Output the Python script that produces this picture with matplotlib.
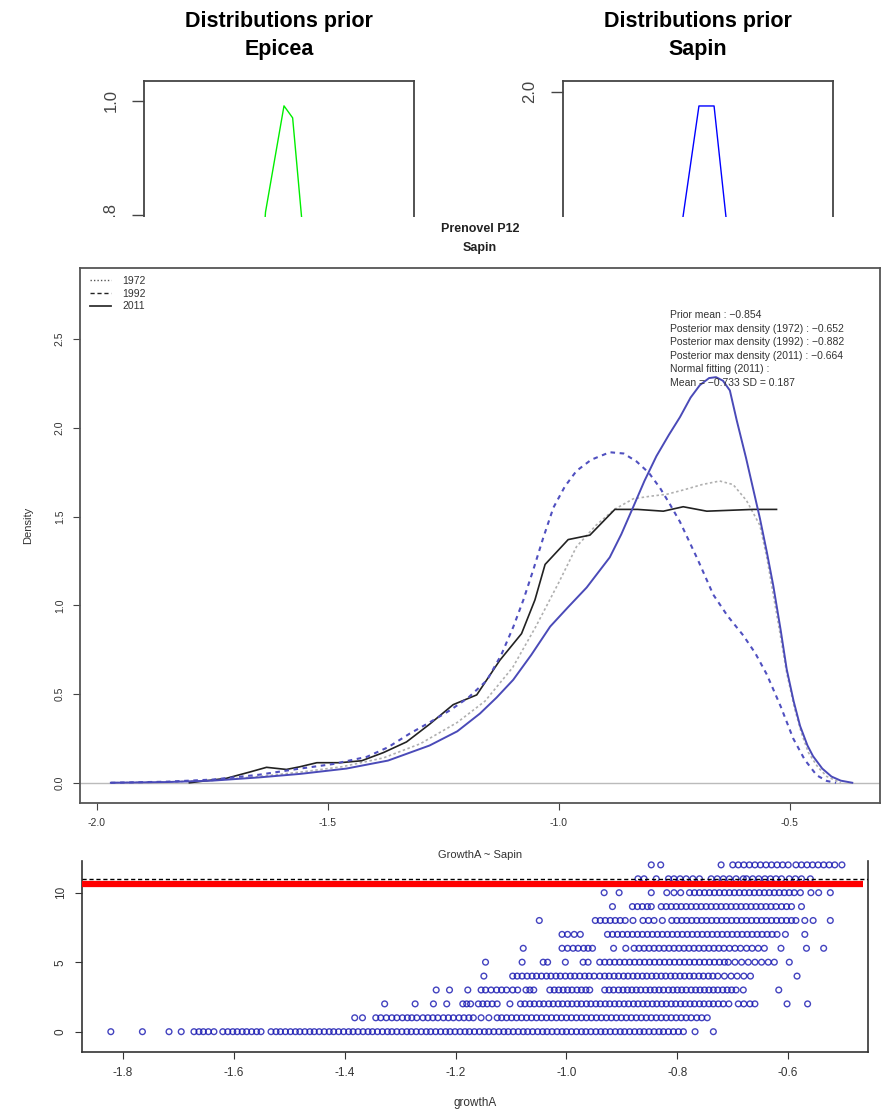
import matplotlib.pyplot as plt
from matplotlib.patches import Rectangle
from matplotlib.lines import Line2D

plt.rcParams['font.family'] = ['Liberation Sans', 'DejaVu Sans']

# ---- top panels: prior distributions (only the upper part is visible) ----
epicea_x = [-1.13, -1.10, -0.963, -0.899, -0.833, -0.82]
epicea_y = [0.70, 0.805, 0.991, 0.970, 0.797, 0.70]
sapin_prior_x = [-1.16, -1.111, -0.993, -0.881, -0.793, -0.75]
sapin_prior_y = [1.40, 1.54, 1.948, 1.948, 1.54, 1.40]

# ---- main panel: posterior densities ----
x1972 = [-1.97, -1.85, -1.75, -1.65, -1.56, -1.47, -1.38, -1.30, -1.22, -1.16, -1.10, -1.05, -1.00,
         -0.962, -0.92, -0.88, -0.839, -0.80, -0.767, -0.73, -0.69, -0.652, -0.623, -0.594, -0.565,
         -0.55, -0.536, -0.52, -0.507, -0.49, -0.475, -0.46, -0.44, -0.42, -0.39]
y1972 = [0.0, 0.004, 0.013, 0.035, 0.06, 0.09, 0.14, 0.22, 0.34, 0.46, 0.65, 0.88, 1.13,
         1.33, 1.45, 1.54, 1.60, 1.615, 1.625, 1.65, 1.68, 1.70, 1.68, 1.59, 1.45,
         1.27, 1.06, 0.82, 0.62, 0.42, 0.28, 0.17, 0.09, 0.035, 0.0]

x1992 = [-1.97, -1.85, -1.75, -1.65, -1.56, -1.49, -1.416, -1.37, -1.323, -1.28, -1.236, -1.196,
         -1.156, -1.125, -1.099, -1.077, -1.056, -1.034, -1.012, -0.987, -0.962, -0.93, -0.89,
         -0.86, -0.832, -0.805, -0.781, -0.76, -0.738, -0.70, -0.666, -0.635, -0.601, -0.575,
         -0.55, -0.52, -0.493, -0.468, -0.442, -0.42, -0.40]
y1992 = [0.0, 0.006, 0.018, 0.045, 0.08, 0.105, 0.146, 0.2, 0.277, 0.34, 0.408, 0.48,
         0.577, 0.72, 0.877, 1.03, 1.196, 1.38, 1.55, 1.67, 1.757, 1.82, 1.862,
         1.855, 1.81, 1.745, 1.66, 1.57, 1.47, 1.26, 1.06, 0.94, 0.83, 0.73,
         0.61, 0.43, 0.25, 0.13, 0.042, 0.01, 0.0]

x2011 = [-1.80, -1.72, -1.67, -1.633, -1.59, -1.561, -1.524, -1.474, -1.427, -1.38, -1.33, -1.28,
         -1.229, -1.178, -1.128, -1.081, -1.052, -1.030, -1.005, -0.980, -0.933, -0.879, -0.83,
         -0.774, -0.731, -0.68, -0.63, -0.58, -0.529]
y2011 = [0.0, 0.025, 0.06, 0.087, 0.075, 0.09, 0.113, 0.113, 0.124, 0.17, 0.23, 0.33,
         0.44, 0.495, 0.69, 0.84, 1.03, 1.23, 1.30, 1.37, 1.395, 1.54, 1.54,
         1.53, 1.555, 1.53, 1.535, 1.54, 1.54]

xpost = [-1.97, -1.85, -1.75, -1.65, -1.56, -1.46, -1.37, -1.28, -1.22, -1.171, -1.135, -1.099,
         -1.06, -1.019, -0.98, -0.94, -0.89, -0.865, -0.839, -0.815, -0.789, -0.762, -0.738,
         -0.715, -0.695, -0.675, -0.66, -0.645, -0.63, -0.615, -0.595, -0.58, -0.565, -0.55,
         -0.536, -0.52, -0.507, -0.492, -0.478, -0.462, -0.45, -0.43, -0.41, -0.39, -0.365]
ypost = [0.0, 0.004, 0.012, 0.03, 0.05, 0.08, 0.125, 0.21, 0.29, 0.39, 0.48, 0.58,
         0.72, 0.88, 0.99, 1.10, 1.27, 1.40, 1.555, 1.70, 1.84, 1.96, 2.06,
         2.17, 2.24, 2.28, 2.285, 2.265, 2.21, 2.04, 1.83, 1.66, 1.49, 1.30,
         1.11, 0.86, 0.64, 0.46, 0.32, 0.21, 0.15, 0.08, 0.035, 0.012, 0.0]

legend_labels = ['1972', '1992', '2011']
info_lines = ['Prior mean : \u22120.854',
              'Posterior max density (1972) : \u22120.652',
              'Posterior max density (1992) : \u22120.882',
              'Posterior max density (2011) : \u22120.664',
              'Normal fitting (2011) :',
              'Mean = \u22120.733 SD = 0.187']

# ---- bottom panel: growthA per row ----
g0 = [-1.822, -1.765, -1.717, -1.695, -1.672, -1.663, -1.655, -1.646, -1.636, -1.620, -1.611, -1.602,
      -1.594, -1.585, -1.577, -1.568, -1.559, -1.551, -1.533, -1.524, -1.516, -1.507, -1.498, -1.489,
      -1.481, -1.472, -1.463, -1.455, -1.446, -1.437, -1.428, -1.420, -1.411, -1.402, -1.393, -1.385,
      -1.376, -1.367, -1.358, -1.350, -1.341, -1.332, -1.323, -1.315, -1.306, -1.297, -1.288, -1.280,
      -1.271, -1.262, -1.253, -1.245, -1.236, -1.227, -1.218, -1.210, -1.201, -1.192, -1.183, -1.175,
      -1.166, -1.157, -1.148, -1.140, -1.131, -1.122, -1.113, -1.105, -1.096, -1.087, -1.078, -1.070,
      -1.061, -1.052, -1.043, -1.035, -1.026, -1.017, -1.008, -1.000, -0.991, -0.982, -0.973, -0.965,
      -0.956, -0.947, -0.938, -0.930, -0.921, -0.912, -0.903, -0.895, -0.886, -0.877, -0.868, -0.860,
      -0.851, -0.842, -0.833, -0.825, -0.816, -0.807, -0.798, -0.789, -0.768, -0.735]
g1 = [-1.382, -1.368, -1.344, -1.335, -1.325, -1.315, -1.306, -1.296, -1.287, -1.279, -1.270, -1.259,
      -1.250, -1.241, -1.232, -1.222, -1.213, -1.204, -1.194, -1.185, -1.176, -1.168, -1.154, -1.140,
      -1.125, -1.117, -1.108, -1.099, -1.090, -1.081, -1.072, -1.063, -1.054, -1.045, -1.036, -1.027,
      -1.018, -1.009, -1.000, -0.991, -0.982, -0.973, -0.964, -0.955, -0.946, -0.937, -0.928, -0.919,
      -0.910, -0.901, -0.892, -0.883, -0.874, -0.865, -0.856, -0.847, -0.838, -0.829, -0.820, -0.811,
      -0.802, -0.793, -0.784, -0.775, -0.765, -0.756, -0.746]
g2 = [-1.328, -1.273, -1.240, -1.216, -1.187, -1.180, -1.173, -1.159, -1.151, -1.143, -1.134, -1.125,
      -1.102, -1.083, -1.075, -1.066, -1.058, -1.049, -1.041, -1.032, -1.024, -1.015, -1.007, -0.998,
      -0.990, -0.981, -0.973, -0.964, -0.956, -0.947, -0.939, -0.930, -0.922, -0.913, -0.905, -0.896,
      -0.888, -0.879, -0.871, -0.862, -0.854, -0.845, -0.837, -0.828, -0.820, -0.811, -0.803, -0.794,
      -0.786, -0.777, -0.769, -0.760, -0.752, -0.743, -0.735, -0.726, -0.717, -0.707, -0.690, -0.680,
      -0.669, -0.660, -0.602, -0.565]
g3 = [-1.235, -1.211, -1.178, -1.154, -1.146, -1.136, -1.126, -1.117, -1.108, -1.097, -1.088, -1.073,
      -1.066, -1.059, -1.030, -1.022, -1.014, -1.006, -0.998, -0.990, -0.981, -0.973, -0.965, -0.958,
      -0.931, -0.923, -0.915, -0.906, -0.898, -0.890, -0.882, -0.874, -0.866, -0.857, -0.849, -0.841,
      -0.833, -0.825, -0.816, -0.808, -0.800, -0.792, -0.784, -0.775, -0.767, -0.759, -0.751, -0.743,
      -0.735, -0.727, -0.718, -0.710, -0.702, -0.694, -0.681, -0.617]
g4 = [-1.149, -1.097, -1.089, -1.080, -1.071, -1.062, -1.054, -1.045, -1.036, -1.028, -1.019, -1.011,
      -1.002, -0.993, -0.985, -0.976, -0.967, -0.959, -0.950, -0.940, -0.931, -0.923, -0.914, -0.906,
      -0.897, -0.889, -0.880, -0.872, -0.863, -0.855, -0.846, -0.838, -0.829, -0.821, -0.812, -0.804,
      -0.795, -0.787, -0.778, -0.770, -0.761, -0.753, -0.744, -0.736, -0.727, -0.715, -0.703, -0.692,
      -0.680, -0.668, -0.584]
g5 = [-1.146, -1.080, -1.042, -1.034, -1.002, -0.970, -0.961, -0.940, -0.931, -0.922, -0.913, -0.904,
      -0.895, -0.886, -0.877, -0.868, -0.859, -0.850, -0.841, -0.832, -0.823, -0.814, -0.805, -0.796,
      -0.787, -0.778, -0.769, -0.760, -0.751, -0.742, -0.733, -0.724, -0.715, -0.708, -0.696, -0.684,
      -0.672, -0.660, -0.648, -0.636, -0.625, -0.598]
g6 = [-1.078, -1.008, -0.998, -0.988, -0.979, -0.969, -0.961, -0.953, -0.915, -0.893, -0.878, -0.869,
      -0.860, -0.851, -0.842, -0.833, -0.824, -0.815, -0.806, -0.797, -0.788, -0.779, -0.770, -0.761,
      -0.752, -0.743, -0.734, -0.725, -0.716, -0.706, -0.696, -0.686, -0.675, -0.665, -0.654, -0.643,
      -0.613, -0.567, -0.536]
g7 = [-1.008, -0.998, -0.986, -0.975, -0.926, -0.917, -0.908, -0.899, -0.890, -0.881, -0.872, -0.863,
      -0.854, -0.845, -0.836, -0.827, -0.818, -0.809, -0.800, -0.791, -0.782, -0.773, -0.764, -0.755,
      -0.746, -0.737, -0.728, -0.719, -0.710, -0.701, -0.692, -0.683, -0.674, -0.665, -0.656, -0.647,
      -0.638, -0.629, -0.620, -0.605, -0.570]
g8 = [-1.049, -0.948, -0.939, -0.930, -0.921, -0.912, -0.903, -0.894, -0.880, -0.862, -0.852, -0.842,
      -0.827, -0.810, -0.801, -0.792, -0.783, -0.774, -0.765, -0.756, -0.747, -0.738, -0.729, -0.720,
      -0.711, -0.702, -0.693, -0.684, -0.675, -0.666, -0.657, -0.648, -0.639, -0.630, -0.621, -0.612,
      -0.603, -0.594, -0.586, -0.570, -0.555, -0.524]
g9 = [-0.917, -0.881, -0.872, -0.863, -0.854, -0.847, -0.829, -0.820, -0.811, -0.802, -0.793, -0.784,
      -0.775, -0.766, -0.757, -0.748, -0.739, -0.730, -0.721, -0.712, -0.703, -0.694, -0.685, -0.676,
      -0.667, -0.658, -0.649, -0.640, -0.631, -0.622, -0.612, -0.603, -0.594, -0.576]
g10 = [-0.932, -0.905, -0.847, -0.819, -0.806, -0.794, -0.778, -0.769, -0.760, -0.751, -0.742, -0.733,
       -0.724, -0.715, -0.706, -0.697, -0.688, -0.679, -0.670, -0.661, -0.652, -0.643, -0.634, -0.625,
       -0.616, -0.607, -0.598, -0.589, -0.578, -0.559, -0.545, -0.524]
g11 = [-0.871, -0.860, -0.838, -0.816, -0.806, -0.795, -0.784, -0.772, -0.760, -0.739, -0.728, -0.717,
       -0.706, -0.694, -0.681, -0.675, -0.664, -0.653, -0.642, -0.632, -0.622, -0.612, -0.598, -0.587,
       -0.576, -0.560]
g12 = [-0.847, -0.830, -0.721, -0.700, -0.690, -0.680, -0.670, -0.660, -0.650, -0.640, -0.630, -0.620,
       -0.610, -0.600, -0.586, -0.576, -0.566, -0.556, -0.546, -0.536, -0.526, -0.516, -0.503]
growth_rows = [g0, g1, g2, g3, g4, g5, g6, g7, g8, g9, g10, g11, g12]
dotted_level = 11.0
red_level = 10.62

W, H = 883, 1110
fig = plt.figure(figsize=(W / 100, H / 100), dpi=100)


def box(l, t, r, b):  # axes from pixel edges (top-left origin)
    return fig.add_axes([l / W, 1 - b / H, (r - l) / W, (b - t) / H])


def ftext(x, y, s, **kw):
    fig.text(x / W, 1 - y / H, s, ha='center', va='center', zorder=12, **kw)


def top_panel(ax, x, y, col, ylim, ticks):
    ax.plot(x, y, color=col, lw=1)
    ax.set_xlim(-2, 0)
    ax.set_ylim(*ylim)
    ax.set_xticks([])
    ax.set_yticks(ticks)
    ax.set_yticklabels(['%.1f' % t for t in ticks], rotation=90, va='center', fontsize=12, color='#444444')
    ax.tick_params(axis='y', length=8.5, width=1, pad=10, color='#444444')
    ax.spines['bottom'].set_visible(False)
    for s in ['top', 'left', 'right']:
        ax.spines[s].set_color('#444444')
        ax.spines[s].set_linewidth(1.3)


axL = box(144, 81, 414, 216.7)
top_panel(axL, epicea_x, epicea_y, '#00ee00', (0.797, 1.0345), [0.8, 1.0])
axR = box(563, 81, 833, 216.7)
top_panel(axR, sapin_prior_x, sapin_prior_y, '#0000ff', (1.54, 2.04), [2.0])

ftext(279, 22, 'Distributions prior', fontsize=15.5, fontweight='bold')
ftext(279, 49, 'Epicea', fontsize=15.5, fontweight='bold')
ftext(698, 22, 'Distributions prior', fontsize=15.5, fontweight='bold')
ftext(698, 49, 'Sapin', fontsize=15.5, fontweight='bold')

# white strip where the top panels are cut off
fig.add_artist(Rectangle((0, 1 - 264 / H), 1, (264 - 216.7) / H, transform=fig.transFigure,
                         facecolor='white', edgecolor='none', zorder=5))

# ---- main panel ----
axM = box(80, 268, 880, 803)
axM.set_zorder(10)
axM.axhline(0, color='#bbbbbb', lw=1)
axM.plot(x1972, y1972, color='#b0b0b0', lw=1.2, ls=(0, (1.5, 1.5)))
axM.plot(x2011, y2011, color='#222222', lw=1.2)
axM.plot(x1992, y1992, color='#5050c0', lw=1.5, ls=(0, (2.2, 2.2)))
axM.plot(xpost, ypost, color='#4a4ab8', lw=1.4)
axM.set_xlim(-2.0368, -0.305)
axM.set_ylim(-0.114, 2.90)
axM.set_xticks([-2.0, -1.5, -1.0, -0.5])
axM.set_xticklabels(['-2.0', '-1.5', '-1.0', '-0.5'], fontsize=7.5, color='#333333')
yt = [0.0, 0.5, 1.0, 1.5, 2.0, 2.5]
axM.set_yticks(yt)
axM.set_yticklabels(['%.1f' % t for t in yt], rotation=90, va='center', fontsize=7.5, color='#333333')
axM.tick_params(length=5, width=0.8, pad=6, color='#444444')
for s in axM.spines.values():
    s.set_color('#555555')
    s.set_linewidth(1.3)

handles = [Line2D([], [], color='#555555', lw=1, ls=(0, (1, 1.5))),
           Line2D([], [], color='#222222', lw=1, ls=(0, (3, 2))),
           Line2D([], [], color='#333333', lw=1.3)]
axM.legend(handles, legend_labels, loc='upper left', bbox_to_anchor=(0.0125, 0.985), borderaxespad=0,
           borderpad=0, frameon=False, fontsize=7.5, handlelength=2.0, handletextpad=1.1,
           labelspacing=0.25, labelcolor='#333333')

for i, line in enumerate(info_lines):
    axM.text((670 - 80) / 800, (803 - (315 + i * 13.6)) / 535, line, transform=axM.transAxes,
             ha='left', va='center', fontsize=7.5, color='#333333')

ftext(480, 229, 'Prenovel P12', fontsize=9, fontweight='bold', color='#222222')
ftext(480, 248, 'Sapin', fontsize=9, fontweight='bold', color='#222222')
ftext(480, 855, 'GrowthA ~ Sapin', fontsize=8, color='#333333')
ftext(28, 525, 'Density', fontsize=8, color='#333333', rotation=90)

# ---- bottom panel ----
axB = box(82, 861, 868, 1051.7)
for i, row in enumerate(growth_rows):
    axB.scatter(row, [i] * len(row), s=17, facecolors='none', edgecolors='#1414b0', linewidths=1.0,
                alpha=0.8, zorder=2)
axB.axhline(dotted_level, color='black', lw=1, ls=(0, (3, 2)), zorder=3)
axB.hlines(red_level, -1.874, -0.465, color='#ff0000', lw=4.5, zorder=4)
axB.set_xlim(-1.874, -0.456)
axB.set_ylim(-1.44, 12.28)
xt = [-1.8, -1.6, -1.4, -1.2, -1.0, -0.8, -0.6]
axB.set_xticks(xt)
axB.set_xticklabels(['%.1f' % t for t in xt], fontsize=8.5, color='#333333')
axB.set_yticks([0, 5, 10])
axB.set_yticklabels(['0', '5', '10'], rotation=90, va='center', fontsize=8.5, color='#333333')
axB.tick_params(length=5, width=0.8, pad=6, color='#333333')
axB.spines['top'].set_visible(False)
for s in ['left', 'right', 'bottom']:
    axB.spines[s].set_color('#333333')
    axB.spines[s].set_linewidth(1.2)
ftext(475, 1103, 'growthA', fontsize=8.5, color='#333333')

fig.savefig('out.png', dpi=100)
